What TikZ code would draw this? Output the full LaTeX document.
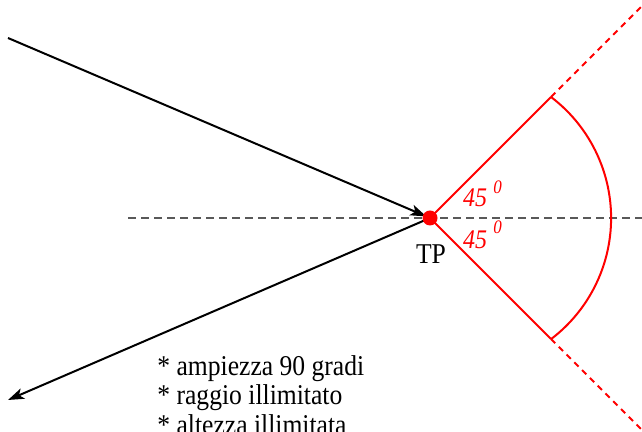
\documentclass[tikz,border=0pt]{standalone}
\usepackage{fontspec}
\setmainfont{Liberation Serif}
\usetikzlibrary{arrows.meta}
\newcommand{\tall}[1]{\scalebox{1}[1.12]{#1}}
\begin{document}
\begin{tikzpicture}[x=0.5pt,y=0.5pt,
  txt/.style={inner sep=0pt,font=\fontsize{12.8}{14.5}\selectfont},
  ang/.style={inner sep=0pt,text=red,font=\fontsize{12}{13}\selectfont\itshape},
  sup/.style={inner sep=0pt,text=red,font=\fontsize{8.5}{10}\selectfont\itshape},
  ray/.style={line width=1pt,black,-{Stealth[length=8pt,width=5.5pt,inset=2pt]}},
  axis/.style={gray!70!black,line width=0.6pt,dash pattern=on 4pt off 2.5pt},
  redl/.style={red,line width=1pt},
  redd/.style={red,line width=1pt,dash pattern=on 3pt off 2.5pt}]
\useasboundingbox (0,0) rectangle (642,432);
\coordinate (TP) at (430,214);
\coordinate (axL) at (128,214);
\coordinate (axR) at (642,214);
\coordinate (src) at (8,394);
\coordinate (dst) at (8,32);
\coordinate (up) at (551,335);
\coordinate (lo) at (551,93);
\coordinate (upF) at (648,432);
\coordinate (loF) at (644,0);
\draw[axis] (axL) -- (axR);
\draw[redl] (TP) -- (up);
\draw[redl] (TP) -- (lo);
\draw[redd] (up) -- (upF);
\draw[redd] (lo) -- (loF);
\draw[redl] (up) arc[start angle=52.8,end angle=-52.8,radius=76pt];
\draw[ray,shorten >=2pt] (src) -- (TP);
\draw[ray] (TP) -- (dst);
\node[circle,fill=red,inner sep=0pt,minimum size=7.5pt] (dot) at (TP) {};
\node[txt] (tp) at (431,178) {\tall{TP}};
\node[ang] (a1) at (475,234) {\tall{45}};
\node[sup] (a1s) at (497.5,244.5) {\tall{0}};
\node[ang] (a2) at (475,192.5) {\tall{45}};
\node[sup] (a2s) at (497.5,205) {\tall{0}};
\node[txt,anchor=base west] (l1) at (157,56.5) {\tall{* ampiezza 90 gradi}};
\node[txt,anchor=base west] (l2) at (157,27) {\tall{* raggio illimitato}};
\node[txt,anchor=base west] (l3) at (157,-2.5) {\tall{* altezza illimitata}};
\end{tikzpicture}
\end{document}
